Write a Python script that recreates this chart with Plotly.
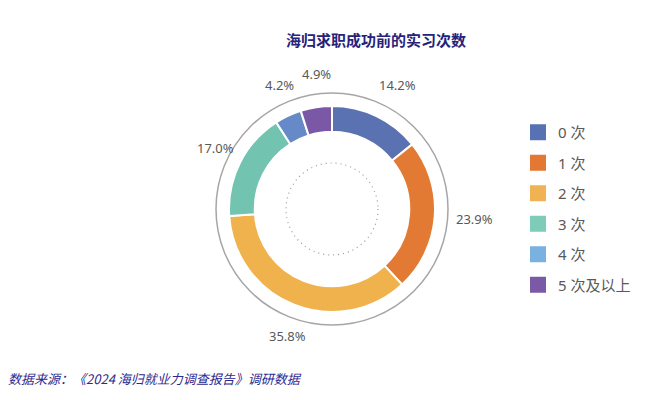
import math
import plotly.graph_objects as go

categories = ["0 次", "1 次", "2 次", "3 次", "4 次", "5 次及以上"]
values = [14.2, 23.9, 35.8, 17.0, 4.2, 4.9]
slice_colors = ["#5b72b2", "#e37a33", "#efb24c", "#72c3b0", "#6689c8", "#7a58a6"]
legend_colors = ["#5672b3", "#e37733", "#f0b253", "#7ecbb9", "#79b1e1", "#7a5aa6"]
title = "海归求职成功前的实习次数"
source = "数据来源：《2024 海归就业力调查报告》调研数据"

W, H = 651, 400
cx, cy = 332, 209  # pixel centre (from top)

def dom(r):
    return dict(x=[(cx - r) / W, (cx + r) / W], y=[(H - cy - r) / H, (H - cy + r) / H])

fig = go.Figure()

fig.add_trace(go.Pie(
    labels=categories, values=values, sort=False, direction="clockwise", rotation=0,
    hole=0.75, domain=dom(103),
    marker=dict(colors=slice_colors, line=dict(color="white", width=2)),
    textinfo="none", showlegend=False, hoverinfo="label+percent",
))

for name, col in zip(categories, legend_colors):
    fig.add_trace(go.Scatter(
        x=[None], y=[None], mode="markers", name=name, legendgroup=name,
        marker=dict(symbol="square", size=20, color=col),
    ))

shapes = [
    dict(type="circle", xref="paper", yref="paper",
         x0=(cx - 116) / W, x1=(cx + 116) / W, y0=(H - cy - 116) / H, y1=(H - cy + 116) / H,
         line=dict(color="#a6a6a6", width=1.5)),
    dict(type="circle", xref="paper", yref="paper",
         x0=(cx - 46) / W, x1=(cx + 46) / W, y0=(H - cy - 46) / H, y1=(H - cy + 46) / H,
         line=dict(color="#9a9a9a", width=1.2, dash="1px,4px")),
]

total = sum(values)
annotations = []
cum = 0.0
R_LABEL = 137
for v in values:
    mid = (cum + v / 2) / total * 2 * math.pi
    cum += v
    lx = cx + R_LABEL * math.sin(mid) + 6
    ly = cy - R_LABEL * math.cos(mid)
    annotations.append(dict(
        text=f"{v:.1f}%", xref="paper", yref="paper", x=lx / W, y=1 - ly / H,
        xanchor="center", yanchor="middle", showarrow=False,
        font=dict(size=13, color="#595959", family="Noto Sans"),
    ))

annotations.append(dict(text="<i>" + source + "</i>", xref="paper", yref="paper",
                        x=6 / W, xanchor="left", y=1 - 378 / H, yanchor="middle", showarrow=False,
                        font=dict(size=13, color="#2e2a8f", family="Noto Sans CJK SC")))

fig.update_layout(
    width=W, height=H, margin=dict(l=0, r=0, t=0, b=0),
    paper_bgcolor="white", plot_bgcolor="white",
    font=dict(family="Noto Sans, Noto Sans CJK SC", color="#595959"),
    title=dict(text="<b>" + title + "</b>", x=376 / W, xanchor="center", y=1 - 41 / H, yanchor="middle",
               font=dict(size=15, color="#25237a", family="Noto Sans CJK SC")),
    xaxis=dict(visible=False), yaxis=dict(visible=False),
    legend=dict(x=518 / W, xanchor="left", y=1 - 116 / H, yanchor="top",
                font=dict(size=15, color="#595959", family="Noto Sans, Noto Sans CJK SC"),
                itemsizing="trace", tracegroupgap=8, bgcolor="rgba(0,0,0,0)"),
    shapes=shapes,
    annotations=annotations,
)

fig.write_html("out.html", config={"displayModeBar": False},
               post_script="document.body.style.margin='0';")
